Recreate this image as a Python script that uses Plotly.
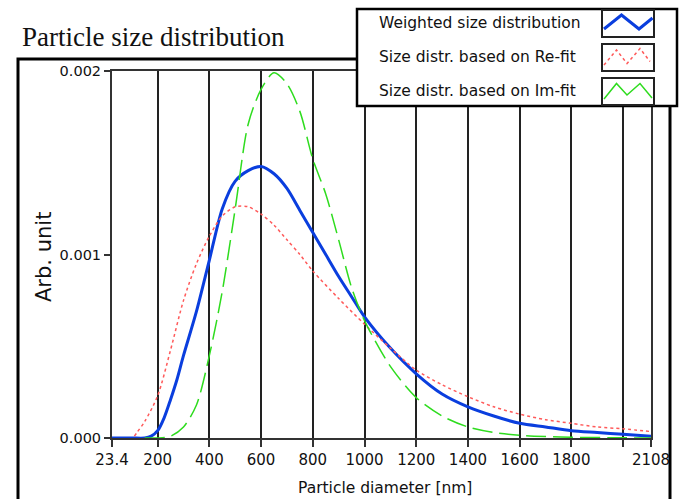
import plotly.graph_objects as go

# ---- data ----
blue_nm = [23.4, 100, 150, 175, 200, 225, 250, 275, 300, 350, 400, 450, 500, 550, 600,
           650, 700, 750, 800, 850, 900, 950, 1000, 1100, 1200, 1300, 1400, 1500,
           1600, 1700, 1800, 1900, 2000, 2108]
blue_val = [0, 0, 0, 0.00001, 0.00004, 0.00011, 0.00021, 0.00032, 0.00045, 0.00069,
            0.00097, 0.00125, 0.00140, 0.001457, 0.00148, 0.00144, 0.00136, 0.00124,
            0.00112, 0.00100, 0.00088, 0.00077, 0.00066, 0.00049, 0.00035, 0.00024,
            0.00017, 0.00012, 0.00008, 0.00006, 0.00004, 0.00003, 0.00002, 0.00001]

red_nm = [110, 120, 150, 200, 250, 300, 350, 400, 450, 500, 550, 600, 650, 700, 750,
          800, 900, 1000, 1100, 1200, 1300, 1400, 1500, 1600, 1700, 1800, 1900, 2000, 2108]
red_val = [0.00001, 0.00003, 0.00009, 0.00023, 0.00048, 0.00075, 0.00095, 0.00110,
           0.00121, 0.00126, 0.00126, 0.00122, 0.00116, 0.00108, 0.00100, 0.00091,
           0.00076, 0.00062, 0.00049, 0.00037, 0.00029, 0.000225, 0.00017, 0.00013,
           0.00010, 0.00008, 0.00006, 0.00005, 0.000035]

green_nm = [150, 200, 250, 300, 350, 400, 450, 500, 550, 600, 650, 700, 750, 800, 850,
            900, 950, 1000, 1100, 1200, 1300, 1400, 1500, 1600, 1700, 1800, 2000, 2108]
green_val = [0, 0, 0.00001, 0.00006, 0.00018, 0.00045, 0.00080, 0.00125, 0.00171,
             0.00190, 0.00199, 0.00193, 0.00178, 0.00152, 0.00133, 0.00108, 0.00082,
             0.00064, 0.00039, 0.00022, 0.00012, 0.00006, 0.00003, 0.000015, 0.000008,
             0.000004, 0.000001, 0]

x_tickvals = [23.4, 200, 400, 600, 800, 1000, 1200, 1400, 1600, 1800, 2000, 2108]
x_ticktext = ["23.4", "200", "400", "600", "800", "1000", "1200", "1400", "1600",
              "1800", "", "2108"]
y_tickvals = [0, 0.001, 0.002]
y_ticktext = ["0.000", "0.001", "0.002"]

series_names = ["Weighted size distribution", "Size distr. based on Re-fit",
                "Size distr. based on Im-fit"]

# ---- layout geometry (pixels) ----
W, H = 682, 499
L, R, T, B = 112, 651, 71, 438
PW, PH = R - L, B - T


def px(x):
    return (x - L) / PW


def py(y):
    return (B - y) / PH


BLUE = "#0a3ede"
RED = "#ff5a5a"
GREEN = "#2edc1e"
SANS = "DejaVu Sans"

fig = go.Figure()
fig.add_trace(go.Scatter(x=blue_nm, y=blue_val, mode="lines",
                         line=dict(color=BLUE, width=3, shape="spline", smoothing=0.8),
                         name=series_names[0]))
fig.add_trace(go.Scatter(x=red_nm, y=red_val, mode="lines",
                         line=dict(color=RED, width=1.5, dash="3px,3px",
                                   shape="spline", smoothing=0.8),
                         name=series_names[1]))
fig.add_trace(go.Scatter(x=green_nm, y=green_val, mode="lines",
                         line=dict(color=GREEN, width=1.5, dash="20px,7px",
                                   shape="spline", smoothing=0.8),
                         name=series_names[2]))

shapes = []
# outer frame (open at the bottom)
shapes.append(dict(type="path", xref="paper", yref="paper",
                   path=f"M {px(18)},{py(520)} L {px(18)},{py(59)} L {px(670)},{py(59)} L {px(670)},{py(520)}",
                   line=dict(color="black", width=3), layer="above"))
# legend box
shapes.append(dict(type="rect", xref="paper", yref="paper",
                   x0=px(357), x1=px(677), y0=py(106), y1=py(9),
                   fillcolor="white", line=dict(color="black", width=2.5), layer="above"))
row_y = [23, 57, 91]
box_tops = [10, 44, 78]
colors = [BLUE, RED, GREEN]
zig = [
    [(604, 29), (621.5, 15), (639, 29), (652.5, 18)],
    [(604, 65), (616.5, 50), (627, 63.5), (640, 48.5), (650, 61.5)],
    [(604, 99), (616.5, 83.5), (627, 95), (640, 83.5), (652, 98)],
]
widths = [3, 1.5, 1.5]
dashes = ["solid", "3px,3px", "solid"]
for i in range(3):
    shapes.append(dict(type="rect", xref="paper", yref="paper",
                       x0=px(602), x1=px(654), y0=py(box_tops[i] + 27), y1=py(box_tops[i]),
                       fillcolor="white", line=dict(color="#222", width=2), layer="above"))
    pts = zig[i]
    path = "M " + " L ".join(f"{px(a)},{py(b)}" for a, b in pts)
    shapes.append(dict(type="path", xref="paper", yref="paper", path=path,
                       line=dict(color=colors[i], width=widths[i], dash=dashes[i]),
                       layer="above"))

annotations = []
for i in range(3):
    annotations.append(dict(xref="paper", yref="paper", x=px(377), y=py(row_y[i]),
                            xanchor="left", yanchor="middle", showarrow=False,
                            text=series_names[i],
                            font=dict(family=SANS, size=15.5, color="#111")))
# title
annotations.append(dict(xref="paper", yref="paper", x=px(20), y=py(37),
                        xanchor="left", yanchor="middle", showarrow=False,
                        text="Particle size distribution",
                        font=dict(family="Liberation Serif", size=27, color="#111")))
# y title
annotations.append(dict(xref="paper", yref="paper", x=px(44), y=py(257),
                        xanchor="center", yanchor="middle", showarrow=False,
                        text="Arb. unit", textangle=-90,
                        font=dict(family=SANS, size=21, color="#111")))
# x title
annotations.append(dict(xref="paper", yref="paper", x=px(385), y=py(488),
                        xanchor="center", yanchor="middle", showarrow=False,
                        text="Particle diameter [nm]",
                        font=dict(family=SANS, size=15.5, color="#111")))

fig.update_layout(
    width=W, height=H,
    margin=dict(l=L, r=W - R, t=T, b=H - B, pad=0),
    paper_bgcolor="white", plot_bgcolor="white",
    showlegend=False,
    shapes=shapes, annotations=annotations,
    xaxis=dict(range=[23.4, 2108], tickmode="array", tickvals=x_tickvals,
               ticktext=x_ticktext, showgrid=True, gridcolor="#222", gridwidth=1.6,
               showline=True, linecolor="#333", linewidth=2, mirror=True,
               ticks="outside", ticklen=7, tickcolor="#333", tickwidth=1.5,
               zeroline=False,
               tickfont=dict(family=SANS, size=15, color="#111")),
    yaxis=dict(range=[0, 0.002], tickmode="array", tickvals=y_tickvals,
               ticktext=y_ticktext, showgrid=False,
               showline=True, linecolor="#333", linewidth=2, mirror=True,
               ticks="outside", ticklen=6, tickcolor="#333", tickwidth=1.5,
               zeroline=False,
               tickfont=dict(family=SANS, size=14.5, color="#111")),
)

fig.write_html("out.html")
